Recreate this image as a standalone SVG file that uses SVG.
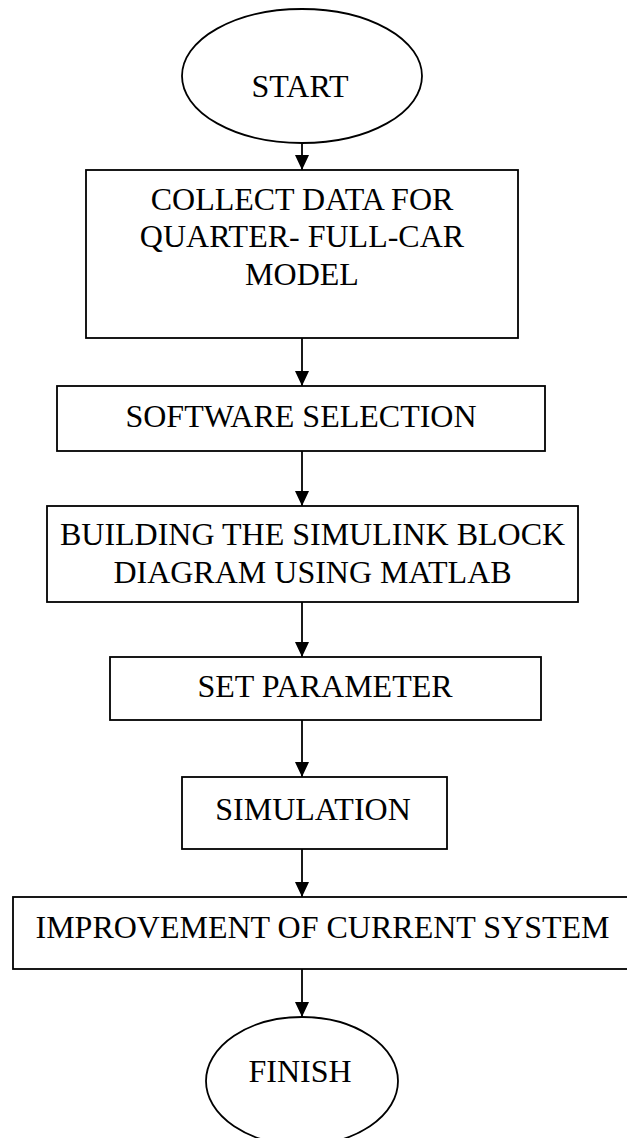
<svg xmlns="http://www.w3.org/2000/svg" width="627" height="1138" viewBox="0 0 627 1138">
  <style>
    .shape { fill: #ffffff; stroke: #000000; stroke-width: 1.8; }
    .label { font-family: "Liberation Serif", "Times New Roman", serif; font-size: 32px; fill: #000000; text-anchor: middle; }
    .flow { stroke: #000000; stroke-width: 1.8; fill: none; marker-end: url(#head); }
  </style>
  <defs>
    <marker id="head" markerUnits="userSpaceOnUse" markerWidth="14" markerHeight="15" refX="15" refY="7" orient="auto">
      <path d="M0,0 L15,7 L0,14 z" fill="#000000"/>
    </marker>
  </defs>
  <rect width="627" height="1138" fill="#ffffff"/>

  <g id="start">
    <ellipse class="shape" cx="302" cy="76" rx="120" ry="67"/>
    <text class="label" x="300" y="97">START</text>
  </g>

  <g id="collect-data">
    <rect class="shape" x="86" y="170" width="432" height="168"/>
    <text class="label" x="302" y="210">COLLECT DATA FOR</text>
    <text class="label" x="302" y="247">QUARTER- FULL-CAR</text>
    <text class="label" x="302" y="285">MODEL</text>
  </g>

  <g id="software-selection">
    <rect class="shape" x="57" y="386" width="488" height="65"/>
    <text class="label" x="301" y="427">SOFTWARE SELECTION</text>
  </g>

  <g id="build-simulink">
    <rect class="shape" x="47" y="506" width="531" height="96"/>
    <text class="label" x="312.5" y="545">BUILDING THE SIMULINK BLOCK</text>
    <text class="label" x="312.5" y="583">DIAGRAM USING MATLAB</text>
  </g>

  <g id="set-parameter">
    <rect class="shape" x="110" y="657" width="431" height="63"/>
    <text class="label" x="325" y="697">SET PARAMETER</text>
  </g>

  <g id="simulation">
    <rect class="shape" x="182" y="777" width="265" height="72"/>
    <text class="label" x="313" y="820">SIMULATION</text>
  </g>

  <g id="improvement">
    <rect class="shape" x="13" y="897" width="630" height="72"/>
    <text class="label" x="322.5" y="938">IMPROVEMENT OF CURRENT SYSTEM</text>
  </g>

  <g id="finish">
    <ellipse class="shape" cx="302" cy="1081" rx="96" ry="64"/>
    <text class="label" x="300" y="1082">FINISH</text>
  </g>

  <g id="connectors">
    <line class="flow" x1="302" y1="143" x2="302" y2="170"/>
    <line class="flow" x1="302" y1="338" x2="302" y2="386"/>
    <line class="flow" x1="302" y1="451" x2="302" y2="506"/>
    <line class="flow" x1="302" y1="602" x2="302" y2="657"/>
    <line class="flow" x1="302" y1="720" x2="302" y2="777"/>
    <line class="flow" x1="302" y1="849" x2="302" y2="897"/>
    <line class="flow" x1="302" y1="969" x2="302" y2="1017"/>
  </g>
</svg>
